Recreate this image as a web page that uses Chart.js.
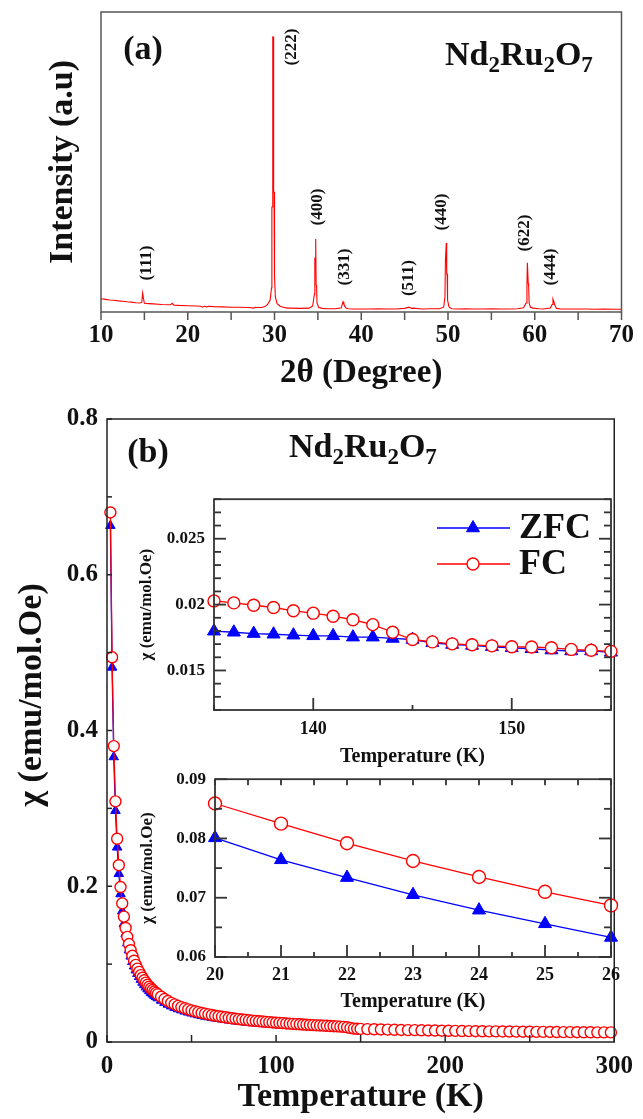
<!DOCTYPE html>
<html>
<head>
<meta charset="utf-8">
<script src="https://cdn.jsdelivr.net/npm/chart.js@4.4.1/dist/chart.umd.min.js"></script>
<style>
  html, body { margin: 0; padding: 0; background: #fff; }
  #wrap { position: relative; width: 643px; height: 1119px; overflow: hidden; }
  canvas { position: absolute; }
  #xrd { left: 0; top: 0; }
  #chi { left: 0; top: 395px; }
  #inset1 { left: 130px; top: 480px; }
  #inset2 { left: 130px; top: 760px; }
</style>
</head>
<body>
<div id="wrap">
  <canvas id="xrd" width="643" height="400" style="width:643px;height:400px"></canvas>
  <canvas id="chi" width="643" height="724" style="width:643px;height:724px"></canvas>
  <canvas id="inset1" width="513" height="290" style="width:513px;height:290px"></canvas>
  <canvas id="inset2" width="513" height="255" style="width:513px;height:255px"></canvas>
</div>
<script>
const SERIF = '"Liberation Serif", "Times New Roman", "DejaVu Serif", serif';
Chart.defaults.font.family = SERIF;
Chart.defaults.font.weight = 'bold';
Chart.defaults.color = '#111';

// (a) XRD pattern, 2theta (deg) and intensity (% of full scale)
const twoTheta = [
  10.0, 10.5, 11.0, 11.5, 12.0, 12.5, 13.0, 13.5, 14.0, 14.5, 14.7, 14.8, 14.9, 15.0, 15.5,
  16.0, 17.0, 18.0, 18.2, 18.4, 19.0, 20.0, 21.0, 21.5, 21.7, 21.9, 22.2, 22.4, 23.0, 24.0, 25.0, 26.0, 27.0, 27.6, 27.8, 28.0, 28.5,
  28.9, 29.2, 29.5, 29.65, 29.7, 29.75, 29.8, 29.85, 29.9, 29.95, 30.0, 30.1, 30.3, 30.6, 31.0, 31.5, 32.0, 33.0, 34.0,
  34.4, 34.6, 34.65, 34.7, 34.75, 34.8, 34.85, 34.9, 35.1, 35.5, 36.0, 37.0, 37.7, 37.9, 38.0, 38.2, 38.5, 39.0,
  40.0, 41.0, 42.0, 43.0, 44.0, 45.0, 45.5, 45.8, 46.0, 47.0, 48.0, 49.0,
  49.5, 49.65, 49.7, 49.75, 49.8, 49.85, 49.9, 49.95, 50.1, 50.4,
  51.0, 52.0, 53.0, 54.0, 55.0, 56.0, 57.0, 58.0, 58.7,
  59.0, 59.1, 59.15, 59.2, 59.25, 59.3, 59.35, 59.5, 59.8, 60.5, 61.0, 61.8, 62.0, 62.1, 62.2, 62.3, 62.5,
  63.0, 64.0, 65.0, 66.0, 67.0, 68.0, 69.0, 70.0
];
const intensity = [
  4.4, 4.2, 4.0, 3.9, 3.7, 3.6, 3.4, 3.3, 3.1, 3.0, 3.2, 6.3, 4.5, 2.9, 2.8,
  2.7, 2.5, 2.4, 2.9, 2.3, 2.2, 2.1, 2.0, 1.9, 1.6, 1.9, 1.7, 1.9, 1.8, 1.7, 1.6, 1.6, 1.5, 1.3, 1.6, 1.5, 1.5,
  1.8, 2.5, 4.0, 8.0, 35.0, 35.0, 91.7, 91.7, 40.0, 40.0, 12.0, 5.0, 2.8, 2.0, 1.6, 1.3, 1.3, 1.2, 1.3,
  2.0, 6.0, 18.0, 18.0, 24.3, 9.0, 8.7, 3.0, 1.5, 1.2, 1.1, 1.1, 1.4, 3.4, 2.6, 1.4, 1.1, 1.0,
  1.0, 1.0, 1.1, 1.0, 1.0, 1.2, 1.6, 1.2, 1.3, 1.0, 1.1, 1.1,
  1.6, 5.0, 17.0, 17.0, 23.0, 12.7, 12.7, 4.0, 1.8, 1.1,
  1.0, 1.1, 1.0, 1.0, 1.1, 1.0, 1.0, 1.1, 1.4,
  3.0, 9.0, 16.4, 16.4, 9.5, 8.7, 3.0, 1.6, 1.3, 1.1, 1.0, 1.3, 2.5, 4.3, 3.5, 2.4, 1.2,
  1.0, 1.0, 1.0, 1.0, 0.9, 1.0, 0.9, 0.9
];
const peakHkl = ['(111)', '(222)', '(400)', '(331)', '(511)', '(440)', '(622)', '(444)'];
const labelTheta = [15.3, 31.95, 34.94, 38.05, 45.5, 49.3, 58.85, 61.84];
const labelLevel = [16.3, 88.3, 35.0, 15.0, 11.3, 33.3, 26.3, 15.0];

// (b) susceptibility, full range
const tempMain = [
  2, 3, 4, 5, 6, 7, 8, 9, 10, 11, 12, 13, 14, 15, 16, 17, 18, 19, 20, 21, 22, 23, 24, 25, 26, 27, 28, 29, 30,
  32, 34, 36, 38, 40, 42, 44, 46, 48, 50, 52, 54, 56, 58, 60, 62, 64, 66, 68, 70,
  72, 74, 76, 78, 80, 82, 84, 86, 88, 90, 92, 94, 96, 98, 100, 102, 104, 106, 108, 110,
  112, 114, 116, 118, 120, 122, 124, 126, 128, 130, 132, 134, 136, 138, 140, 142, 144, 146, 148, 150,
  154, 158, 162, 166, 170, 174, 178, 182, 186, 190, 194, 198, 202, 206, 210, 214, 218, 222, 226,
  230, 234, 238, 242, 246, 250, 254, 258, 262, 266, 270, 274, 278, 282, 286, 290, 294, 298
];
const chiFC = [
  0.680, 0.494, 0.380, 0.309, 0.261, 0.227, 0.199, 0.178, 0.161,
  0.1464, 0.1350, 0.1258, 0.1179, 0.1107, 0.1044, 0.0991, 0.0942, 0.0900, 0.0859,
  0.0825, 0.0792, 0.0762, 0.0735, 0.0710, 0.0687, 0.0667, 0.0648, 0.0631, 0.0613,
  0.0581, 0.0552, 0.0526, 0.0503, 0.0483, 0.0464, 0.0448, 0.0433, 0.0419, 0.0406,
  0.0394, 0.0383, 0.0373, 0.0364, 0.0355, 0.0346, 0.0338, 0.0331, 0.0324, 0.0317,
  0.0311, 0.0305, 0.0299, 0.0294, 0.0289, 0.0284, 0.0279, 0.0275, 0.0271, 0.0267,
  0.0263, 0.0259, 0.0255, 0.0251, 0.0248, 0.0245, 0.0242, 0.0238, 0.0236, 0.0233,
  0.0230, 0.0227, 0.0224, 0.0222, 0.0219, 0.0217, 0.0214, 0.0212, 0.0210, 0.0208,
  0.0205, 0.0203, 0.0201, 0.0198, 0.0194, 0.0189, 0.0179, 0.0172, 0.0170, 0.0168,
  0.0165, 0.0163, 0.0161, 0.0159, 0.0157, 0.0155, 0.0153, 0.0152, 0.0150, 0.0148,
  0.0147, 0.0145, 0.0144, 0.0143, 0.0141, 0.0140, 0.0139, 0.0138, 0.0137, 0.0136,
  0.0135, 0.0134, 0.0133, 0.0132, 0.0131, 0.0130, 0.0130, 0.0129, 0.0128, 0.0127,
  0.0127, 0.0126, 0.0125, 0.0125, 0.0124, 0.0124, 0.0123
];
const chiZFC = [
  0.663, 0.481, 0.366, 0.297, 0.250, 0.216, 0.190, 0.168, 0.152,
  0.139, 0.127, 0.118, 0.110, 0.103, 0.0973, 0.0922, 0.0877, 0.0837, 0.0801,
  0.0764, 0.0734, 0.0705, 0.0679, 0.0656, 0.0633, 0.0614, 0.0596, 0.0580, 0.0564,
  0.0533, 0.0506, 0.0482, 0.0460, 0.0441, 0.0424, 0.0409, 0.0394, 0.0381, 0.0369,
  0.0358, 0.0347, 0.0338, 0.0329, 0.0321, 0.0312, 0.0305, 0.0298, 0.0292, 0.0285,
  0.0280, 0.0274, 0.0268, 0.0263, 0.0259, 0.0254, 0.0249, 0.0245, 0.0241, 0.0238,
  0.0234, 0.0231, 0.0227, 0.0223, 0.0220, 0.0218, 0.0215, 0.0212, 0.0210, 0.0207,
  0.0204, 0.0202, 0.0199, 0.0197, 0.0195, 0.0193, 0.0190, 0.0188, 0.0186, 0.0184,
  0.0182, 0.0180, 0.0179, 0.01775, 0.0176, 0.0175, 0.0174, 0.0171, 0.0169, 0.0167,
  0.0164, 0.0162, 0.0160, 0.0158, 0.0156, 0.0154, 0.0152, 0.0151, 0.0149, 0.0147,
  0.0146, 0.0144, 0.0143, 0.0142, 0.0140, 0.0139, 0.0138, 0.0137, 0.0136, 0.0135,
  0.0134, 0.0133, 0.0132, 0.0131, 0.0130, 0.0129, 0.0129, 0.0128, 0.0127, 0.0126,
  0.0126, 0.0125, 0.0124, 0.0124, 0.0123, 0.0123, 0.0122
];

// upper inset, 135-155 K
const tempHigh = [135, 136, 137, 138, 139, 140, 141, 142, 143, 144, 145, 146, 147, 148, 149, 150, 151, 152, 153, 154, 155];
const fcHigh = [0.02028, 0.02013, 0.01995, 0.01978, 0.01953, 0.01935, 0.01912, 0.01885, 0.01848, 0.0179, 0.01735,
  0.01717, 0.01702, 0.01695, 0.01687, 0.0168, 0.01678, 0.01672, 0.0166, 0.01653, 0.01645];
const zfcHigh = [0.01798, 0.0179, 0.0178, 0.01775, 0.01768, 0.01763, 0.01763, 0.01753, 0.01753, 0.01743, 0.01735,
  0.0171, 0.01697, 0.0169, 0.0168, 0.01672, 0.01665, 0.01655, 0.01648, 0.01648, 0.01638];

// lower inset, 20-26 K
const tempLow = [20, 21, 22, 23, 24, 25, 26];
const fcLow = [0.0859, 0.0825, 0.0792, 0.0762, 0.0735, 0.0710, 0.0687];
const zfcLow = [0.0801, 0.0764, 0.0734, 0.0705, 0.0679, 0.0656, 0.0633];

const pts = (xs, ys) => xs.map((x, i) => ({ x: x, y: ys[i] }));

const fcStyle = (r) => ({
  borderColor: '#ff0000', borderWidth: 1.3, pointStyle: 'circle', pointRadius: r,
  pointBackgroundColor: '#ffffff', pointBorderColor: '#ff0000', pointBorderWidth: 1.4, order: 1, clip: false
});
const zfcStyle = (r) => ({
  borderColor: '#0000ff', borderWidth: 1.3, pointStyle: 'triangle', pointRadius: r,
  pointBackgroundColor: '#0000ff', pointBorderColor: '#0000ff', pointBorderWidth: 1, order: 2, clip: false
});

const noGrid = { display: false, drawTicks: false };

// box round the plot area plus tick marks (positive length = inward)
function frame(spec, notes) {
  return {
    id: 'frame',
    beforeDraw(chart) {
      if (!spec.fill) return;
      const a = chart.chartArea;
      chart.ctx.save();
      chart.ctx.fillStyle = spec.fill;
      chart.ctx.fillRect(a.left, a.top, a.right - a.left, a.bottom - a.top);
      chart.ctx.restore();
    },
    afterDraw(chart) {
      const { ctx, chartArea: a, scales } = chart;
      ctx.save();
      ctx.strokeStyle = spec.color;
      ctx.lineWidth = spec.width;
      ctx.strokeRect(a.left, a.top, a.right - a.left, a.bottom - a.top);
      spec.marks.forEach(m => {
        const sc = scales[m.axis];
        sc.ticks.forEach(t => {
          const p = sc.getPixelForValue(t.value);
          const len = (t.label === '' || t.label === undefined) ? m.minor : m.major;
          if (!len) return;
          ctx.beginPath();
          if (m.side === 'bottom') { ctx.moveTo(p, a.bottom); ctx.lineTo(p, a.bottom - len); }
          if (m.side === 'top') { ctx.moveTo(p, a.top); ctx.lineTo(p, a.top + len); }
          if (m.side === 'left') { ctx.moveTo(a.left, p); ctx.lineTo(a.left + len, p); }
          if (m.side === 'right') { ctx.moveTo(a.right, p); ctx.lineTo(a.right - len, p); }
          ctx.stroke();
        });
      });
      ctx.restore();
      if (notes) { ctx.save(); notes(chart, ctx); ctx.restore(); }
    }
  };
}

function drawFormula(ctx, x, baseline, size) {
  const parts = [['Nd', 0], ['2', 1], ['Ru', 0], ['2', 1], ['O', 0], ['7', 1]];
  let cx = x;
  ctx.fillStyle = '#111';
  ctx.textAlign = 'left';
  ctx.textBaseline = 'alphabetic';
  parts.forEach(([s, sub]) => {
    ctx.font = 'bold ' + (sub ? Math.round(size * 0.68) : size) + 'px ' + SERIF;
    ctx.fillText(s, cx, sub ? baseline + size * 0.2 : baseline);
    cx += ctx.measureText(s).width;
  });
}

function boldText(ctx, text, x, y, size, rot) {
  ctx.save();
  ctx.translate(x, y);
  if (rot) ctx.rotate(rot);
  ctx.font = 'bold ' + size + 'px ' + SERIF;
  ctx.fillStyle = '#111';
  ctx.textAlign = 'center';
  ctx.textBaseline = 'middle';
  ctx.fillText(text, 0, 0);
  ctx.restore();
}

const noUi = { legend: { display: false }, tooltip: { enabled: false } };
const tickFont = (size) => ({ size: size, weight: 'bold', family: SERIF });

// ---------- (a) ----------
new Chart(document.getElementById('xrd'), {
  type: 'line',
  data: { datasets: [{ data: pts(twoTheta, intensity), borderColor: '#ff0000', borderWidth: 1.1, pointRadius: 0, clip: false }] },
  options: {
    responsive: false, animation: false, events: [],
    layout: { padding: { left: 0, top: 12, right: 20, bottom: 0 } },
    plugins: noUi,
    scales: {
      x: {
        type: 'linear', min: 10, max: 70,
        grid: noGrid, border: { display: false },
        ticks: { stepSize: 5, autoSkip: false, maxRotation: 0, padding: 9, color: '#111', font: tickFont(25),
          callback: v => (v % 10 === 0 ? String(v) : '') },
        title: { display: true, text: '2θ (Degree)', color: '#111', font: tickFont(33), padding: { top: 0, bottom: 7 } },
        afterFit: s => { s.height = 88; }
      },
      y: {
        type: 'linear', min: 0, max: 100,
        grid: noGrid, border: { display: false }, ticks: { display: false },
        title: { display: true, text: 'Intensity (a.u)', color: '#111', font: tickFont(34), padding: { top: 43, bottom: 0 } },
        afterFit: s => { s.width = 101; }
      }
    }
  },
  plugins: [frame({ color: '#555', width: 1.5, marks: [{ axis: 'x', side: 'bottom', major: -8, minor: -8 }] },
    (chart, ctx) => {
      const xs = chart.scales.x, ys = chart.scales.y;
      peakHkl.forEach((h, i) => {
        boldText(ctx, h, xs.getPixelForValue(labelTheta[i]), ys.getPixelForValue(labelLevel[i]), 17, -Math.PI / 2);
      });
      boldText(ctx, '(a)', 143, 50, 34);
      drawFormula(ctx, 445, 65, 34);
    })]
});

// ---------- (b) ----------
new Chart(document.getElementById('chi'), {
  type: 'line',
  data: {
    datasets: [
      Object.assign({ label: 'ZFC', data: pts(tempMain, chiZFC) }, zfcStyle(5.5)),
      Object.assign({ label: 'FC', data: pts(tempMain, chiFC) }, fcStyle(5.5))
    ]
  },
  options: {
    responsive: false, animation: false, events: [],
    layout: { padding: { left: 0, top: 20, right: 20, bottom: 0 } },
    plugins: noUi,
    scales: {
      x: {
        type: 'linear', min: 0, max: 300,
        grid: noGrid, border: { display: false },
        ticks: { stepSize: 50, autoSkip: false, maxRotation: 0, padding: 10, color: '#111', font: tickFont(25),
          callback: v => (v % 100 === 0 ? String(v) : '') },
        title: { display: true, text: 'Temperature (K)', color: '#111', font: tickFont(34), padding: { top: 0, bottom: 1 } },
        afterFit: s => { s.height = 77; }
      },
      y: {
        type: 'linear', min: 0, max: 0.8,
        grid: noGrid, border: { display: false },
        ticks: { stepSize: 0.1, autoSkip: false, padding: 9, color: '#111', font: tickFont(25),
          callback: v => { const k = Math.round(v * 10); return k % 2 === 0 ? String(k / 10) : ''; } },
        afterFit: s => { s.width = 107; }
      }
    }
  },
  plugins: [frame({ color: '#222', width: 1.5, marks: [
      { axis: 'y', side: 'left', major: 5, minor: 5 },
      { axis: 'x', side: 'bottom', major: 7, minor: 7 }] },
    (chart, ctx) => {
      boldText(ctx, 'χ (emu/mol.Oe)', 32, 300, 34, -Math.PI / 2);
      boldText(ctx, '(b)', 148, 58, 34);
      drawFormula(ctx, 289, 62, 34);
    })]
});

// ---------- upper inset ----------
new Chart(document.getElementById('inset1'), {
  type: 'line',
  data: {
    datasets: [
      Object.assign({ label: 'ZFC', data: pts(tempHigh, zfcHigh) }, zfcStyle(7.5)),
      Object.assign({ label: 'FC', data: pts(tempHigh, fcHigh) }, fcStyle(6))
    ]
  },
  options: {
    responsive: false, animation: false, events: [],
    layout: { padding: { left: 0, top: 19, right: 32, bottom: 0 } },
    plugins: noUi,
    scales: {
      x: {
        type: 'linear', min: 135, max: 155,
        grid: noGrid, border: { display: false },
        ticks: { stepSize: 5, autoSkip: false, maxRotation: 0, padding: 9, color: '#111', font: tickFont(18),
          callback: v => (v % 10 === 0 ? String(v) : '') },
        title: { display: true, text: 'Temperature (K)', color: '#111', font: tickFont(20), padding: { top: 0, bottom: 1 } },
        afterFit: s => { s.height = 60; }
      },
      y: {
        type: 'linear', min: 0.012, max: 0.028,
        grid: noGrid, border: { display: false },
        ticks: { stepSize: 0.001, autoSkip: false, padding: 9, color: '#111', font: tickFont(17),
          callback: v => { const k = Math.round(v * 1000); return k % 5 === 0 ? String(k / 1000) : ''; } },
        title: { display: true, text: 'χ (emu/mol.Oe)', color: '#111', font: tickFont(17), padding: { top: 6, bottom: 0 } },
        afterFit: s => { s.width = 84; }
      }
    }
  },
  plugins: [frame({ color: '#333', width: 1.8, fill: '#ffffff', marks: [
      { axis: 'y', side: 'left', major: 12, minor: 7 },
      { axis: 'y', side: 'right', major: 12, minor: 7 },
      { axis: 'x', side: 'bottom', major: 12, minor: 5 }] },
    (chart, ctx) => {
      // legend, styled from the datasets
      const rows = [[chart.data.datasets[0], 48], [chart.data.datasets[1], 84]];
      rows.forEach(([ds, y]) => {
        ctx.strokeStyle = ds.borderColor;
        ctx.lineWidth = ds.borderWidth;
        ctx.beginPath(); ctx.moveTo(307, y); ctx.lineTo(380, y); ctx.stroke();
        ctx.fillStyle = ds.pointBackgroundColor;
        ctx.strokeStyle = ds.pointBorderColor;
        ctx.lineWidth = ds.pointBorderWidth;
        Chart.helpers.drawPoint(ctx, { pointStyle: ds.pointStyle, radius: ds.pointRadius, rotation: 0, borderWidth: ds.pointBorderWidth }, 343, y);
        ctx.font = 'bold 36px ' + SERIF;
        ctx.fillStyle = '#111';
        ctx.textAlign = 'left';
        ctx.textBaseline = 'middle';
        ctx.fillText(ds.label, 389, y + 1);
      });
    })]
});

// ---------- lower inset ----------
new Chart(document.getElementById('inset2'), {
  type: 'line',
  data: {
    datasets: [
      Object.assign({ label: 'ZFC', data: pts(tempLow, zfcLow) }, zfcStyle(7.5)),
      Object.assign({ label: 'FC', data: pts(tempLow, fcLow) }, fcStyle(6.5))
    ]
  },
  options: {
    responsive: false, animation: false, events: [],
    layout: { padding: { left: 0, top: 15, right: 32, bottom: 0 } },
    plugins: noUi,
    scales: {
      x: {
        type: 'linear', min: 20, max: 26,
        grid: noGrid, border: { display: false },
        ticks: { stepSize: 0.5, autoSkip: false, maxRotation: 0, padding: 8, color: '#111', font: tickFont(18),
          callback: v => (Number.isInteger(v) ? String(v) : '') },
        title: { display: true, text: 'Temperature (K)', color: '#111', font: tickFont(20), padding: { top: 0, bottom: 1 } },
        afterFit: s => { s.height = 58; }
      },
      y: {
        type: 'linear', min: 0.06, max: 0.09,
        grid: noGrid, border: { display: false },
        ticks: { stepSize: 0.005, autoSkip: false, padding: 9, color: '#111', font: tickFont(17),
          callback: v => { const k = Math.round(v * 1000); return k % 10 === 0 ? String(k / 1000) : ''; } },
        title: { display: true, text: 'χ (emu/mol.Oe)', color: '#111', font: tickFont(17), padding: { top: 7, bottom: 0 } },
        afterFit: s => { s.width = 85; }
      }
    }
  },
  plugins: [frame({ color: '#333', width: 1.8, fill: '#ffffff', marks: [
      { axis: 'y', side: 'left', major: 12, minor: 7 },
      { axis: 'y', side: 'right', major: 12, minor: 7 },
      { axis: 'x', side: 'bottom', major: 12, minor: 5 },
      { axis: 'x', side: 'top', major: 6, minor: 6 }] })]
});
</script>
</body>
</html>
